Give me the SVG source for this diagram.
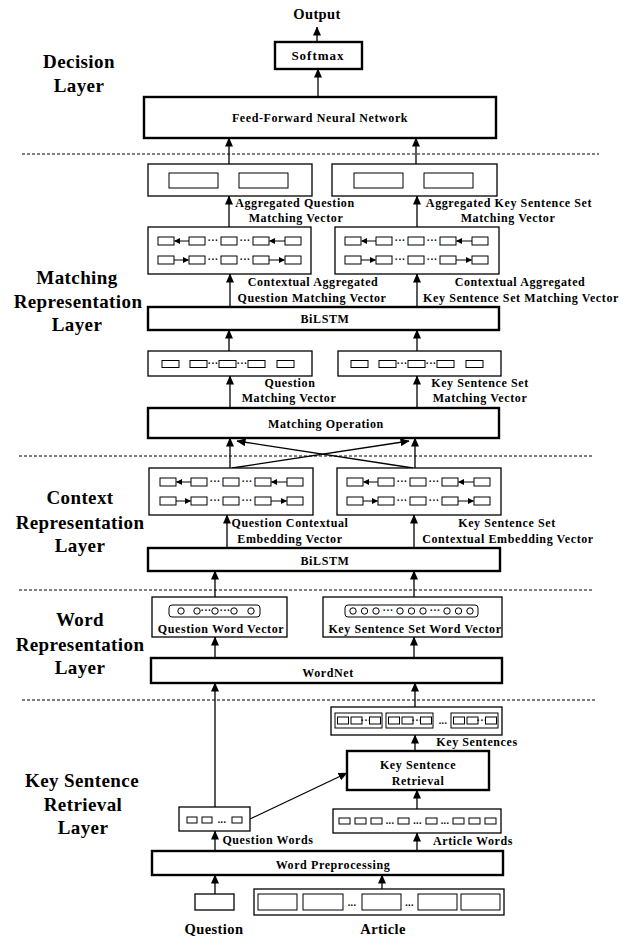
<svg xmlns="http://www.w3.org/2000/svg" xmlns:xlink="http://www.w3.org/1999/xlink" width="635" height="937" viewBox="0 0 635 937">
  <style>
    .box { fill: #fff; stroke: #000; stroke-width: 1.3; }
    .thick { fill: #fff; stroke: #000; stroke-width: 2.4; }
    .cell { fill: #fff; stroke: #000; stroke-width: 1; }
    .circ { fill: #fff; stroke: #000; stroke-width: 1; }
    .t { font-family: "Liberation Serif", "Times New Roman", serif; font-weight: bold; font-size: 12px; letter-spacing: 0.6px; text-anchor: middle; fill: #000; }
    .big { font-size: 14.5px; letter-spacing: 0.4px; }
    .layer { font-family: "Liberation Serif", "Times New Roman", serif; font-weight: bold; font-size: 19px; letter-spacing: 0.4px; text-anchor: middle; fill: #000; }
    .dots { font-family: "Liberation Serif", "Times New Roman", serif; font-weight: bold; font-size: 10px; letter-spacing: 0.3px; text-anchor: middle; fill: #000; }
    .conn { stroke: #000; stroke-width: 1.3; fill: none; marker-end: url(#ah); }
    .mini { stroke: #000; stroke-width: 1; fill: none; marker-end: url(#ahs); }
    .dash { stroke: #000; stroke-width: 1; stroke-dasharray: 3 2; fill: none; }
  </style>
  <defs>
    <marker id="ah" markerUnits="userSpaceOnUse" markerWidth="9" markerHeight="8" refX="8.5" refY="4" orient="auto">
      <path d="M0,0 L9,4 L0,8 z" fill="#000"/>
    </marker>
    <marker id="ahs" markerUnits="userSpaceOnUse" markerWidth="6" markerHeight="6" refX="5.5" refY="3" orient="auto">
      <path d="M0,0 L6,3 L0,6 z" fill="#000"/>
    </marker>
    <!-- bidirectional LSTM row, backward direction -->
    <g id="rowL">
      <rect class="cell" x="0" y="-4" width="16" height="8"/>
      <rect class="cell" x="31" y="-4" width="16" height="8"/>
      <rect class="cell" x="63" y="-4" width="16" height="8"/>
      <rect class="cell" x="95" y="-4" width="16" height="8"/>
      <rect class="cell" x="127" y="-4" width="16" height="8"/>
      <line class="mini" x1="31" y1="0" x2="16.5" y2="0"/>
      <line class="mini" x1="127" y1="0" x2="111.5" y2="0"/>
      <text class="dots" x="55" y="3.2">···</text>
      <text class="dots" x="87" y="3.2">···</text>
    </g>
    <!-- bidirectional LSTM row, forward direction -->
    <g id="rowR">
      <rect class="cell" x="0" y="-4" width="16" height="8"/>
      <rect class="cell" x="31" y="-4" width="16" height="8"/>
      <rect class="cell" x="63" y="-4" width="16" height="8"/>
      <rect class="cell" x="95" y="-4" width="16" height="8"/>
      <rect class="cell" x="127" y="-4" width="16" height="8"/>
      <line class="mini" x1="16" y1="0" x2="30.5" y2="0"/>
      <line class="mini" x1="111" y1="0" x2="126.5" y2="0"/>
      <text class="dots" x="55" y="3.2">···</text>
      <text class="dots" x="87" y="3.2">···</text>
    </g>
    <!-- matching vector row -->
    <g id="mrow">
      <rect class="cell" x="0" y="-3.5" width="17" height="7"/>
      <rect class="cell" x="28" y="-3.5" width="17" height="7"/>
      <rect class="cell" x="57" y="-3.5" width="17" height="7"/>
      <rect class="cell" x="86" y="-3.5" width="17" height="7"/>
      <rect class="cell" x="115" y="-3.5" width="17" height="7"/>
      <text class="dots" x="51" y="2.8">···</text>
      <text class="dots" x="80" y="2.8">···</text>
    </g>
    <!-- one key sentence -->
    <g id="sent">
      <rect class="cell" x="0" y="0" width="47" height="15"/>
      <rect class="cell" x="2.5" y="4" width="11" height="7"/>
      <rect class="cell" x="16" y="4" width="11" height="7"/>
      <text class="dots" x="31" y="10.5">···</text>
      <rect class="cell" x="34.5" y="4" width="11" height="7"/>
    </g>
  </defs>

  <!-- layer separators -->
  <g id="separators">
    <line class="dash" x1="22" y1="154" x2="599" y2="154"/>
    <line class="dash" x1="19" y1="456" x2="594" y2="456"/>
    <line class="dash" x1="19" y1="590" x2="594" y2="590"/>
    <line class="dash" x1="22" y1="700" x2="597" y2="700"/>
  </g>

  <!-- layer titles -->
  <g id="layer-titles">
    <text class="layer" x="79" y="68">Decision</text>
    <text class="layer" x="79" y="92">Layer</text>
    <text class="layer" x="77" y="284">Matching</text>
    <text class="layer" x="78" y="308">Representation</text>
    <text class="layer" x="77" y="331">Layer</text>
    <text class="layer" x="80" y="504">Context</text>
    <text class="layer" x="80" y="529">Representation</text>
    <text class="layer" x="80" y="552">Layer</text>
    <text class="layer" x="80" y="626">Word</text>
    <text class="layer" x="80" y="651">Representation</text>
    <text class="layer" x="80" y="674">Layer</text>
    <text class="layer" x="82" y="787">Key Sentence</text>
    <text class="layer" x="83" y="811">Retrieval</text>
    <text class="layer" x="83" y="834">Layer</text>
  </g>

  <!-- connectors -->
  <g id="connectors">
    <line class="conn" x1="317" y1="42" x2="317" y2="27"/>
    <line class="conn" x1="318" y1="97" x2="318" y2="69"/>
    <line class="conn" x1="229" y1="164" x2="229" y2="138"/>
    <line class="conn" x1="416" y1="164" x2="416" y2="138"/>
    <line class="conn" x1="229" y1="227" x2="229" y2="196"/>
    <line class="conn" x1="417" y1="227" x2="417" y2="196"/>
    <line class="conn" x1="230" y1="307" x2="230" y2="274"/>
    <line class="conn" x1="417" y1="307" x2="417" y2="274"/>
    <line class="conn" x1="229" y1="351" x2="229" y2="330"/>
    <line class="conn" x1="417" y1="351" x2="417" y2="330"/>
    <line class="conn" x1="230" y1="408" x2="230" y2="376"/>
    <line class="conn" x1="417" y1="408" x2="417" y2="376"/>
    <line class="conn" x1="230" y1="468" x2="230" y2="438"/>
    <line class="conn" x1="415" y1="468" x2="415" y2="438"/>
    <line class="conn" x1="232" y1="468" x2="409" y2="441"/>
    <line class="conn" x1="413" y1="468" x2="237" y2="441"/>
    <line class="conn" x1="227" y1="548" x2="227" y2="515"/>
    <line class="conn" x1="414" y1="548" x2="414" y2="515"/>
    <line class="conn" x1="215" y1="597" x2="215" y2="571"/>
    <line class="conn" x1="414" y1="597" x2="414" y2="571"/>
    <line class="conn" x1="215" y1="658" x2="215" y2="637"/>
    <line class="conn" x1="414" y1="658" x2="414" y2="637"/>
    <line class="conn" x1="215" y1="807" x2="215" y2="683"/>
    <line class="conn" x1="415" y1="707" x2="415" y2="683"/>
    <line class="conn" x1="415" y1="751" x2="415" y2="735"/>
    <line class="conn" x1="250" y1="819" x2="347" y2="773"/>
    <line class="conn" x1="417" y1="809" x2="417" y2="790"/>
    <line class="conn" x1="215" y1="851" x2="215" y2="831"/>
    <line class="conn" x1="417" y1="851" x2="417" y2="833"/>
    <line class="conn" x1="215" y1="894" x2="215" y2="875"/>
    <line class="conn" x1="382" y1="889" x2="382" y2="875"/>
  </g>

  <!-- decision layer -->
  <g id="output">
    <text class="t big" x="317" y="19">Output</text>
  </g>
  <g id="softmax">
    <rect class="thick" x="275" y="42" width="87" height="27"/>
    <text class="t" x="318" y="60" style="font-size:13px;letter-spacing:1px">Softmax</text>
  </g>
  <g id="ffnn">
    <rect class="thick" x="144" y="97" width="352" height="41"/>
    <text class="t" x="320" y="122">Feed-Forward Neural Network</text>
  </g>

  <!-- matching representation layer -->
  <g id="agg-question">
    <rect class="box" x="148" y="164" width="164" height="32"/>
    <rect class="cell" x="169" y="173" width="49" height="15"/>
    <rect class="cell" x="239" y="173" width="49" height="15"/>
    <text class="t" x="295" y="207">Aggregated Question</text>
    <text class="t" x="296" y="222">Matching Vector</text>
  </g>
  <g id="agg-keyset">
    <rect class="box" x="332" y="164" width="165" height="32"/>
    <rect class="cell" x="354" y="173" width="49" height="15"/>
    <rect class="cell" x="424" y="173" width="49" height="15"/>
    <text class="t" x="509" y="207">Aggregated Key Sentence Set</text>
    <text class="t" x="508" y="222">Matching Vector</text>
  </g>
  <g id="ctx-agg-question">
    <rect class="box" x="148" y="227" width="163" height="47"/>
    <use xlink:href="#rowL" x="158" y="241"/>
    <use xlink:href="#rowR" x="158" y="260"/>
    <text class="t" x="313" y="286">Contextual Aggregated</text>
    <text class="t" x="312" y="302">Question Matching Vector</text>
  </g>
  <g id="ctx-agg-keyset">
    <rect class="box" x="335" y="227" width="164" height="47"/>
    <use xlink:href="#rowL" x="345" y="241"/>
    <use xlink:href="#rowR" x="345" y="260"/>
    <text class="t" x="520" y="286">Contextual Aggregated</text>
    <text class="t" x="521" y="302">Key Sentence Set Matching Vector</text>
  </g>
  <g id="bilstm-matching">
    <rect class="thick" x="148" y="307" width="351" height="23"/>
    <text class="t" x="325" y="323">BiLSTM</text>
  </g>
  <g id="match-question">
    <rect class="box" x="148" y="351" width="164" height="25"/>
    <use xlink:href="#mrow" x="162" y="364"/>
    <text class="t" x="290" y="387">Question</text>
    <text class="t" x="289" y="402">Matching Vector</text>
  </g>
  <g id="match-keyset">
    <rect class="box" x="338" y="351" width="163" height="25"/>
    <use xlink:href="#mrow" x="351" y="364"/>
    <text class="t" x="480" y="387">Key Sentence Set</text>
    <text class="t" x="480" y="402">Matching Vector</text>
  </g>
  <g id="matching-operation">
    <rect class="thick" x="148" y="408" width="351" height="30"/>
    <text class="t" x="326" y="428">Matching Operation</text>
  </g>

  <!-- context representation layer -->
  <g id="ctx-question">
    <rect class="box" x="149" y="468" width="164" height="47"/>
    <use xlink:href="#rowL" x="160" y="482"/>
    <use xlink:href="#rowR" x="160" y="501"/>
    <text class="t" x="290" y="527">Question Contextual</text>
    <text class="t" x="290" y="543">Embedding Vector</text>
  </g>
  <g id="ctx-keyset">
    <rect class="box" x="337" y="468" width="164" height="47"/>
    <use xlink:href="#rowL" x="347" y="482"/>
    <use xlink:href="#rowR" x="347" y="501"/>
    <text class="t" x="507" y="527">Key Sentence Set</text>
    <text class="t" x="508" y="543">Contextual Embedding Vector</text>
  </g>
  <g id="bilstm-context">
    <rect class="thick" x="148" y="548" width="352" height="23"/>
    <text class="t" x="325" y="565">BiLSTM</text>
  </g>

  <!-- word representation layer -->
  <g id="question-word-vector">
    <rect class="box" x="152" y="597" width="135" height="40"/>
    <rect class="cell" x="169" y="605" width="91" height="12" rx="3"/>
    <circle class="circ" cx="181" cy="611" r="3.2"/>
    <circle class="circ" cx="197" cy="611" r="3.2"/>
    <circle class="circ" cx="215" cy="611" r="3.2"/>
    <circle class="circ" cx="234" cy="611" r="3.2"/>
    <circle class="circ" cx="251" cy="611" r="3.2"/>
    <text class="dots" x="206" y="614">···</text>
    <text class="dots" x="225" y="614">···</text>
    <text class="t" x="221" y="633">Question Word Vector</text>
  </g>
  <g id="keyset-word-vector">
    <rect class="box" x="323" y="597" width="179" height="40"/>
    <rect class="cell" x="345" y="605" width="133" height="12" rx="3"/>
    <circle class="circ" cx="353" cy="611" r="3.2"/>
    <circle class="circ" cx="364.5" cy="611" r="3.2"/>
    <circle class="circ" cx="376" cy="611" r="3.2"/>
    <text class="dots" x="388" y="614">···</text>
    <circle class="circ" cx="400" cy="611" r="3.2"/>
    <circle class="circ" cx="411.5" cy="611" r="3.2"/>
    <circle class="circ" cx="423" cy="611" r="3.2"/>
    <text class="dots" x="435" y="614">···</text>
    <circle class="circ" cx="447" cy="611" r="3.2"/>
    <circle class="circ" cx="458.5" cy="611" r="3.2"/>
    <circle class="circ" cx="470" cy="611" r="3.2"/>
    <text class="t" x="415" y="633">Key Sentence Set Word Vector</text>
  </g>
  <g id="wordnet">
    <rect class="thick" x="151" y="658" width="351" height="25"/>
    <text class="t" x="328" y="677">WordNet</text>
  </g>

  <!-- key sentence retrieval layer -->
  <g id="key-sentences">
    <rect class="box" x="331" y="707" width="171" height="28"/>
    <use xlink:href="#sent" x="335" y="713"/>
    <use xlink:href="#sent" x="386" y="713"/>
    <text class="dots" x="443" y="724">...</text>
    <use xlink:href="#sent" x="451" y="713"/>
    <text class="t" x="477" y="746">Key Sentences</text>
  </g>
  <g id="key-sentence-retrieval">
    <rect class="thick" x="347" y="751" width="142" height="39"/>
    <text class="t" x="418" y="769">Key Sentence</text>
    <text class="t" x="418" y="785">Retrieval</text>
  </g>
  <g id="question-words">
    <rect class="box" x="179" y="807" width="71" height="24"/>
    <rect class="cell" x="187" y="817" width="10" height="6"/>
    <rect class="cell" x="202" y="817" width="10" height="6"/>
    <text class="dots" x="222" y="823">...</text>
    <rect class="cell" x="232" y="817" width="10" height="6"/>
    <text class="t" x="268" y="844">Question Words</text>
  </g>
  <g id="article-words">
    <rect class="box" x="333" y="809" width="168" height="24"/>
    <rect class="cell" x="339" y="818" width="11" height="6"/>
    <rect class="cell" x="355" y="818" width="11" height="6"/>
    <rect class="cell" x="371" y="818" width="11" height="6"/>
    <text class="dots" x="390" y="824">...</text>
    <rect class="cell" x="398" y="818" width="11" height="6"/>
    <text class="dots" x="417.5" y="824">...</text>
    <rect class="cell" x="426" y="818" width="11" height="6"/>
    <text class="dots" x="445" y="824">...</text>
    <rect class="cell" x="453" y="818" width="11" height="6"/>
    <rect class="cell" x="469" y="818" width="11" height="6"/>
    <rect class="cell" x="485" y="818" width="11" height="6"/>
    <text class="t" x="473" y="845">Article Words</text>
  </g>
  <g id="word-preprocessing">
    <rect class="thick" x="152" y="851" width="351" height="24"/>
    <text class="t" x="333" y="869">Word Preprocessing</text>
  </g>
  <g id="question">
    <rect class="box" x="195" y="894" width="39" height="16"/>
    <text class="t big" x="214" y="934">Question</text>
  </g>
  <g id="article">
    <rect class="box" x="254" y="889" width="250" height="26"/>
    <rect class="cell" x="258" y="894" width="39" height="16"/>
    <rect class="cell" x="303" y="894" width="40" height="16"/>
    <text class="dots" x="352" y="906">...</text>
    <rect class="cell" x="362" y="894" width="39" height="16"/>
    <text class="dots" x="409.5" y="906">...</text>
    <rect class="cell" x="418" y="894" width="39" height="16"/>
    <rect class="cell" x="461" y="894" width="39" height="16"/>
    <text class="t big" x="383" y="934">Article</text>
  </g>
</svg>
